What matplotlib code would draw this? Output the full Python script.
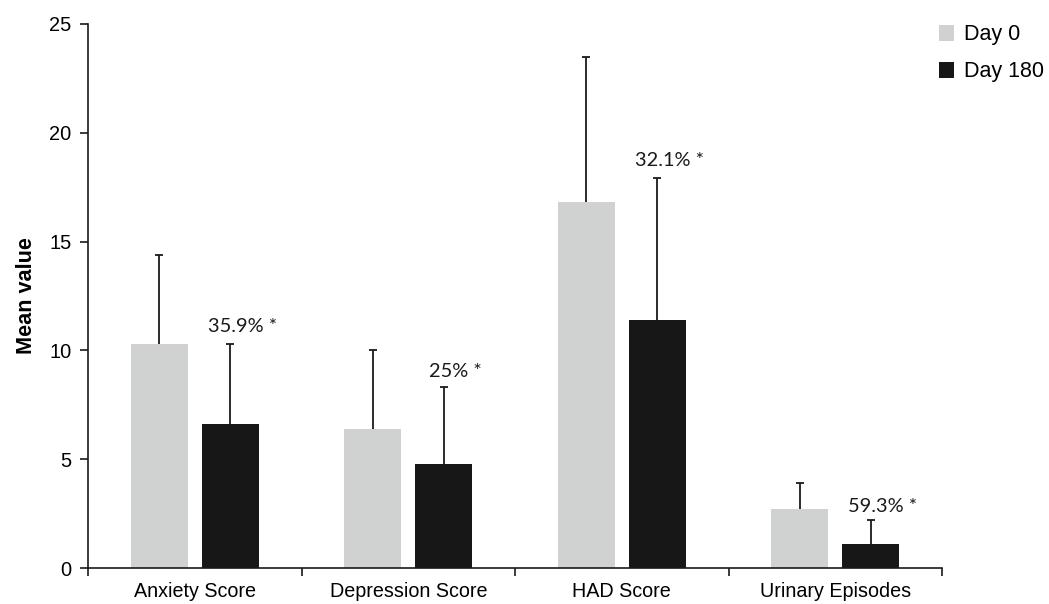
import numpy as np
import matplotlib
matplotlib.use('Agg')
import matplotlib.pyplot as plt

categories = ['Anxiety Score', 'Depression Score', 'HAD Score', 'Urinary Episodes']
day0_mean = [10.3, 6.4, 16.8, 2.7]
day0_err = [4.1, 3.6, 6.7, 1.2]
day180_mean = [6.6, 4.8, 11.4, 1.1]
day180_err = [3.7, 3.5, 6.5, 1.1]
change_labels = ['35.9% *', '25% *', '32.1% *', '59.3% *']
label_y = [10.85, 8.78, 18.47, 2.57]

plt.rcParams['font.family'] = ['Liberation Sans', 'DejaVu Sans']

fig = plt.figure(figsize=(10.49, 6.04), dpi=100)
ax = fig.add_axes([0.0839, 0.0596, 0.8141, 0.9007])

x = np.arange(len(categories))
width = 0.267
offset = 0.166

ax.bar(x - offset, day0_mean, width, color='#d0d2d2', label='Day 0', zorder=2)
ax.bar(x + offset, day180_mean, width, color='#171717', label='Day 180', zorder=2)

err_kw = dict(fmt='none', ecolor='#1a1a1a', elinewidth=1.3, capsize=3.2, capthick=1.3, zorder=3)
for pos, mean, err in [(x - offset, day0_mean, day0_err), (x + offset, day180_mean, day180_err)]:
    eb = ax.errorbar(pos, mean, yerr=[np.zeros(len(err)), err], **err_kw)
    # only the upper cap, like the original
    eb[1][0].set_visible(False)

for xi, lab, ly in zip(x, change_labels, label_y):
    ax.text(xi + offset + 0.056, ly, lab, ha='center', va='baseline',
            fontsize=14.4, family=['Lato', 'DejaVu Sans'], color='#1a1a1a')

ax.set_xlim(-0.5, len(categories) - 0.5)
ax.set_ylim(0, 25)
ax.set_yticks(np.arange(0, 26, 5))
ax.set_xticks(np.arange(-0.5, len(categories), 1.0))
ax.set_xticklabels([])
ax.set_xticks(x, minor=True)
ax.set_xticklabels(categories, minor=True)
ax.tick_params(axis='x', which='minor', length=0, pad=10, labelsize=14.2)
ax.tick_params(axis='x', which='major', length=6, width=1.2, color='#1a1a1a', direction='out')
ax.tick_params(axis='y', length=6, width=1.2, color='#1a1a1a', labelsize=14.4, pad=6)

for s in ['top', 'right']:
    ax.spines[s].set_visible(False)
for s in ['left', 'bottom']:
    ax.spines[s].set_linewidth(1.2)
    ax.spines[s].set_color('#1a1a1a')

ax.set_ylabel('Mean value', fontsize=15.6, fontweight='bold', labelpad=9)

ax.legend(loc='upper left', bbox_to_anchor=(0.8766, 0.992), bbox_transform=fig.transFigure,
          frameon=False, fontsize=15.5, handlelength=0.7, handleheight=0.75,
          handletextpad=0.45, labelspacing=0.75)

fig.savefig('out.png', dpi=100)
